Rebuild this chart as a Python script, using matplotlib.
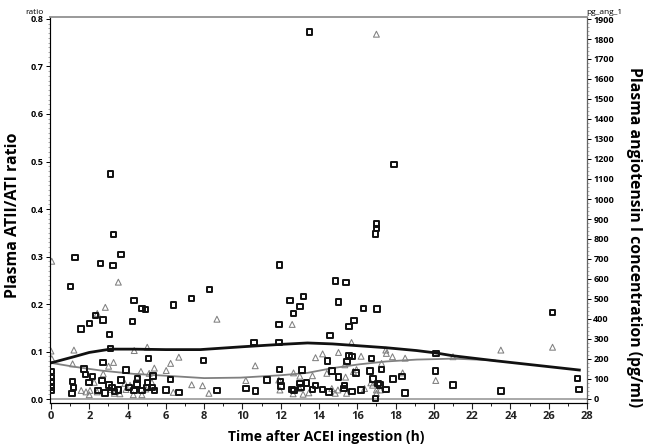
import matplotlib
matplotlib.use("Agg")
import matplotlib.pyplot as plt
from matplotlib.ticker import MultipleLocator, FormatStrFormatter

plt.rcParams['font.family'] = ['Open Sans', 'DejaVu Sans']

# angiotensin I (pg/ml), open squares, right axis
sq_hours = [0.03, 0.03, 0.03, 0.03, 0.03,
            1.03, 1.25, 1.58, 2.02, 2.33, 2.73, 2.58, 3.10, 3.27, 3.25, 3.66, 4.35, 4.26, 4.75, 4.94,
            6.39, 7.35, 8.27, 3.05, 3.10, 5.10, 7.97, 1.74, 1.81, 2.18, 2.73, 3.92, 6.25, 1.13, 1.17,
            1.10, 2.00, 2.66, 2.45, 2.82, 3.04, 3.20, 3.31, 3.52, 3.67, 4.07, 4.33, 4.53, 4.50, 4.77,
            5.05, 5.03, 5.34, 5.27, 5.41, 6.02, 6.68, 8.68,
            10.18, 10.69, 10.60, 11.28, 11.92, 11.91, 11.94, 11.99, 12.03, 12.50, 12.67, 13.02, 13.18,
            11.94, 13.12, 12.60, 12.69, 13.00, 13.35, 13.05, 13.82, 13.66, 14.19, 14.45, 14.59, 14.53,
            14.69, 15.02, 15.02, 14.87, 15.42, 15.33, 15.32, 15.46, 15.58, 15.73, 15.58, 15.82, 16.33,
            15.94, 15.73, 16.20, 16.67, 16.75, 16.83, 16.96, 17.09, 17.18, 17.27, 17.49, 17.88, 18.33,
            18.50, 17.02, 17.93, 17.00, 17.00, 16.95, 13.50,
            20.10, 20.09, 21.00, 23.50, 26.20, 27.50, 27.59]
sq_pg = [137, 108, 85, 60, 42,
         563, 708, 350, 377, 418, 395, 678, 1125, 823, 667, 723, 493, 387, 453, 448,
         470, 502, 547, 322, 253, 203, 192, 150, 123, 113, 182, 145, 98, 88, 57,
         28, 82, 92, 42, 30, 70, 58, 37, 45, 95, 58, 42, 100, 75, 42,
         82, 58, 115, 57, 42, 45, 33, 42,
         53, 40, 282, 95, 372, 283, 148, 87, 65, 493, 428, 462, 513,
         670, 145, 48, 42, 78, 80, 57, 68, 48, 48, 190, 317, 35,
         140, 110, 485, 590, 582, 67, 53, 187, 218, 212, 362, 392, 453,
         130, 37, 45, 140, 202, 100, 3, 78, 70, 148, 48, 100, 112,
         30, 450, 1172, 875, 852, 825, 1835,
         227, 140, 70, 40, 433, 103, 48]

# ATII/ATI ratio, open triangles, left axis
tri_hours = [0.04, 3.52, 2.84, 2.42, 8.67,
             0.00, 0.04, 1.20, 1.13, 4.35, 5.03, 6.68, 3.27, 3.01, 2.73,
             1.58, 1.83, 2.00, 2.04, 2.26, 2.42, 3.13, 3.31, 3.60, 3.86, 3.92, 4.13, 4.30, 4.50,
             4.70, 4.75, 4.96, 5.13, 5.27, 5.40, 6.02, 6.25, 6.39, 7.35, 7.92, 8.25,
             10.67, 10.18, 11.90, 11.96, 12.60, 12.67, 12.65, 13.00, 13.17, 13.47, 13.66, 13.82,
             14.19, 14.41, 14.67, 14.85, 14.99, 15.02, 15.39, 15.44, 15.70, 15.80, 15.96, 16.20,
             16.38, 16.71, 17.27, 17.49, 17.52, 17.84, 18.37, 18.50, 17.00, 17.20, 13.00, 15.35,
             16.80, 17.00, 17.00,
             20.10, 23.50, 26.20, 21.00]
tri_ratio = [0.290, 0.246, 0.193, 0.180, 0.168,
             0.101, 0.085, 0.103, 0.074, 0.102, 0.109, 0.088, 0.077, 0.069, 0.053,
             0.018, 0.015, 0.009, 0.018, 0.035, 0.015, 0.020, 0.012, 0.011, 0.033, 0.020, 0.029, 0.009, 0.047,
             0.058, 0.009, 0.021, 0.054, 0.035, 0.065, 0.060, 0.075, 0.014, 0.030, 0.028, 0.012,
             0.070, 0.039, 0.040, 0.019, 0.157, 0.055, 0.011, 0.022, 0.010, 0.013, 0.049, 0.087,
             0.095, 0.054, 0.022, 0.012, 0.019, 0.098, 0.046, 0.012, 0.119, 0.058, 0.062, 0.090,
             0.022, 0.034, 0.075, 0.103, 0.096, 0.089, 0.055, 0.086, 0.019, 0.019, 0.048, 0.072,
             0.029, 0.012, 0.768,
             0.039, 0.103, 0.109, 0.089]

# smoothed curves (ratio units)
fit1_hours = [0, 1.2, 2.0, 3.1, 4.3, 6.0, 7.8, 10.0, 12.0, 13.4, 14.7, 16.1, 17.5, 19.1, 20.1, 21.0, 23.1, 27.6]
fit1_vals = [0.076, 0.089, 0.098, 0.105, 0.105, 0.104, 0.104, 0.110, 0.115, 0.118, 0.116, 0.112, 0.108,
             0.102, 0.097, 0.091, 0.081, 0.061]
fit2_hours = [0, 1.2, 2.6, 4.3, 6.0, 8.0, 9.9, 12.0, 13.4, 14.7, 16.1, 17.5, 19.1, 20.1, 21.0, 22.8, 23.2]
fit2_vals = [0.076, 0.068, 0.060, 0.053, 0.049, 0.044, 0.045, 0.050, 0.055, 0.065, 0.073, 0.079, 0.083,
             0.084, 0.085, 0.082, 0.081]

fig = plt.figure(figsize=(6.45, 4.46), dpi=100)
ax = fig.add_axes([50 / 645, 43 / 446, 537 / 645, 386 / 446])
ax2 = ax.twinx()

ax.set_xlim(-0.05, 28.0)
ax.set_ylim(-0.0084, 0.8042)
ax2.set_ylim(-20, 1910)

ax.axhline(0, color='#999999', lw=1.2, zorder=1)
ax.plot(fit2_hours, fit2_vals, color='#808080', lw=1.3, zorder=3)
ax.plot(fit1_hours, fit1_vals, color='#111111', lw=2.0, zorder=4)
ax.scatter(tri_hours, tri_ratio, marker='^', s=18, facecolors='none', edgecolors='#808080',
           linewidths=0.75, zorder=2)
ax2.scatter(sq_hours, sq_pg, marker='s', s=16, facecolors='none', edgecolors='#111111',
            linewidths=1.4, zorder=5)

# axes styling
for a in (ax, ax2):
    a.spines['top'].set_color('#999999')
    a.spines['top'].set_linewidth(1.2)
ax.spines['left'].set_color('#666666')
ax2.spines['right'].set_color('#666666')

ax.xaxis.set_major_locator(MultipleLocator(2))
ax.xaxis.set_minor_locator(MultipleLocator(1))
ax.yaxis.set_major_locator(MultipleLocator(0.1))
ax.yaxis.set_minor_locator(MultipleLocator(0.01))
ax.yaxis.set_major_formatter(FormatStrFormatter('%.1f'))
ax2.yaxis.set_major_locator(MultipleLocator(100))
ax2.yaxis.set_minor_locator(MultipleLocator(20))

ax.tick_params(axis='x', which='major', length=4, width=0.8, labelsize=8, pad=2, colors='#222222')
ax.tick_params(axis='x', which='minor', length=2.5, width=0.6)
ax.tick_params(axis='y', which='major', length=3, width=0.7, labelsize=6.5, pad=1.5)
ax.tick_params(axis='y', which='minor', length=1.5, width=0.5, color='#888888')
ax2.tick_params(axis='y', which='major', length=3, width=0.7, labelsize=6.5, pad=1.5)
ax2.tick_params(axis='y', which='minor', length=1.5, width=0.5, color='#888888')
for lab in ax.get_xticklabels() + ax.get_yticklabels() + ax2.get_yticklabels():
    lab.set_fontweight('bold')

ax.set_xlabel('Time after ACEI ingestion (h)', fontsize=10, fontweight='bold', va='center')
ax.xaxis.set_label_coords((326 - 50) / 537, -(437 - 403) / 386)
ax.set_ylabel('Plasma ATII/ATI ratio', fontsize=11.5, fontweight='bold', va='center')
ax.yaxis.set_label_coords((13 - 50) / 537, 0.487)
ax2.set_ylabel('Plasma angiotensin I concentration (pg/ml)', fontsize=11.3, fontweight='bold',
               rotation=270, va='center')
ax2.yaxis.set_label_coords((634 - 50) / 537, 0.43)

fig.text(34 / 645, 1 - 12 / 446, 'ratio', fontsize=6, ha='center', va='center')
fig.text(604 / 645, 1 - 12 / 446, 'pg_ang_1', fontsize=6, ha='center', va='center')

fig.savefig('out.png', dpi=100)
